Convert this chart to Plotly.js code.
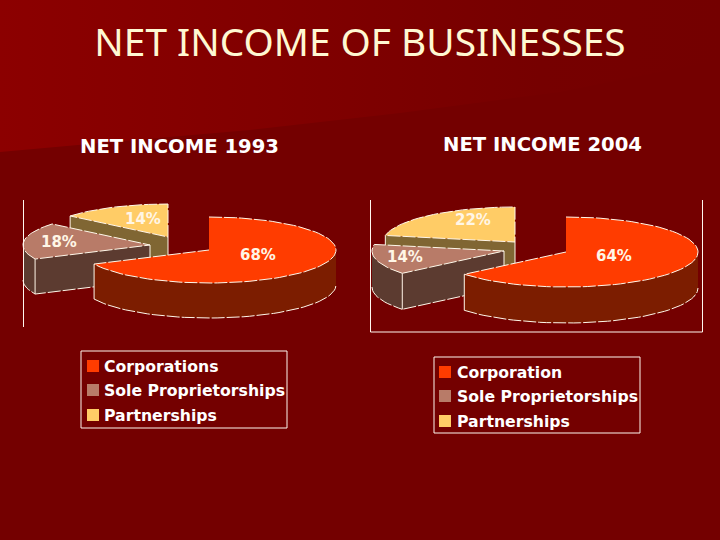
<!DOCTYPE html>
<html><head><meta charset="utf-8">
<script src="https://cdn.plot.ly/plotly-3.0.1.min.js"></script>
<style>html,body{margin:0;padding:0;background:#740000}#c{width:720px;height:540px}</style>
</head><body><div id="c"></div>
<script>
const mainTitle = 'NET INCOME OF BUSINESSES';
const title1993 = 'NET INCOME 1993';
const title2004 = 'NET INCOME 2004';
const categories1993 = ['Corporations', 'Sole Proprietorships', 'Partnerships'];
const values1993 = [68, 18, 14];
const categories2004 = ['Corporation', 'Sole Proprietorships', 'Partnerships'];
const values2004 = [64, 14, 22];
const topColors = ['#FF3C00', '#B87B68', '#FFCC66'];
const sideColors = ['#7C1D00', '#5C3B30', '#806633'];
const edge = '#FFF8EA';

const charts = [
  {values: values1993, cats: categories1993, rx: 127, ry: 33, depth: 35,
   apex: [[209,250],[150,245],[168,237]],
   labels: [[258,255],[59,242],[143,219]],
   title: title1993, titleAt: [179,146],
   key: {x0:81, x1:287, y0:351, y1:428, sq:93, txt:102, rows:[366,390,415]}},
  {values: values2004, cats: categories2004, rx: 132, ry: 35, depth: 36,
   apex: [[566,252],[504,251],[515,242]],
   labels: [[614,256],[405,257],[473,220]],
   title: title2004, titleAt: [542,144],
   key: {x0:434, x1:640, y0:357, y1:433, sq:445, txt:455, rows:[372,396,421]}}
];

const traces = [];
const annotations = [];
const shapes = [];
const rad = d => d * Math.PI / 180;

// background sheen, upper-left
traces.push({x:[0,720,720,560,400,250,100,0,0], y:[0,0,60,92,113,130,143,152,0],
  mode:'none', fill:'toself', hoverinfo:'skip', showlegend:false,
  fillgradient:{type:'horizontal', colorscale:[[0,'#8C0000'],[0.35,'#820000'],[0.75,'#760000'],[1,'#740000']]}});

function pt(c, rx, ry, a, dz) {
  return [c[0] + rx * Math.sin(rad(a)), c[1] - ry * Math.cos(rad(a)) + (dz || 0)];
}
function area(points, fill, name) {
  traces.push({x: points.map(p => p[0]), y: points.map(p => p[1]), mode:'lines',
    fill:'toself', fillcolor: fill, line:{width:0, color: fill}, name,
    hoverinfo:'skip', showlegend:false});
}
function stroke(points, dash) {
  traces.push({x: points.map(p => p[0]), y: points.map(p => p[1]), mode:'lines',
    line:{color: edge, width: 1, dash}, hoverinfo:'skip', showlegend:false});
}
function arc(c, rx, ry, a0, a1, dz) {
  const out = [];
  const n = Math.max(2, Math.ceil(Math.abs(a1 - a0) / 3));
  for (let i = 0; i <= n; i++) out.push(pt(c, rx, ry, a0 + (a1 - a0) * i / n, dz));
  return out;
}
const rim = '13px,2px';

charts.forEach(ch => {
  const total = ch.values.reduce((s, v) => s + v, 0);
  let acc = 0;
  const spans = ch.values.map(v => { const a0 = acc; acc += v / total * 360; return [a0, acc]; });
  [2, 1, 0].forEach(i => {
    const [a0, a1] = spans[i], c = ch.apex[i];
    const lo = Math.max(a0, 90), hi = Math.min(a1, 270);
    if (hi > lo) {
      const t = arc(c, ch.rx, ch.ry, lo, hi, 0), b = arc(c, ch.rx, ch.ry, hi, lo, ch.depth);
      area(t.concat(b), sideColors[i], ch.cats[i]);
      stroke(b, rim);
    }
    if (a0 > 180) {
      const s = pt(c, ch.rx, ch.ry, a0);
      const sb = [s[0], s[1] + ch.depth], cb = [c[0], c[1] + ch.depth];
      area([c, s, sb, cb], sideColors[i], ch.cats[i]);
      stroke([cb, sb], rim);
      stroke([s, sb], 'solid');
      stroke([c, cb], 'solid');
    } else if (hi > lo) {
      const s = pt(c, ch.rx, ch.ry, hi);
      stroke([s, [s[0], s[1] + ch.depth]], 'solid');
    }
    const rimTop = arc(c, ch.rx, ch.ry, a0, a1, 0);
    area([c].concat(rimTop), topColors[i], ch.cats[i]);
    stroke(i === 0 ? rimTop.concat([c]) : rimTop.concat([c, rimTop[0]]), rim);
  });
  ch.values.forEach((v, i) => annotations.push({x: ch.labels[i][0], y: ch.labels[i][1],
    text: v + '%', showarrow:false, xref:'x', yref:'y',
    font:{family:'DejaVu Sans', size:15, color:'#FFF6E6', weight:700}}));
  annotations.push({x: ch.titleAt[0], y: ch.titleAt[1], text: ch.title, showarrow:false,
    font:{family:'DejaVu Sans', size:19.6, color:'#FFFFFF', weight:700}});
  const k = ch.key;
  shapes.push({type:'rect', xref:'x', yref:'y', x0:k.x0, x1:k.x1, y0:k.y0, y1:k.y1,
    line:{color:'#FFF6EE', width:1}, fillcolor:'rgba(0,0,0,0)'});
  ch.cats.forEach((name, i) => {
    traces.push({x:[k.sq], y:[k.rows[i]], mode:'markers', hoverinfo:'skip', showlegend:false,
      marker:{symbol:'square', size:12, color: topColors[i]}, name});
    annotations.push({x:k.txt, y:k.rows[i], text:name, showarrow:false, xanchor:'left',
      font:{family:'DejaVu Sans', size:15.7, color:'#FFFFFF', weight:700}});
  });
});

[[23.5,200,23.5,327],[370.5,200,370.5,332],[370.5,332,702.5,332],[702.5,200,702.5,332]].forEach(l =>
  shapes.push({type:'line', xref:'x', yref:'y', x0:l[0], y0:l[1], x1:l[2], y1:l[3],
    line:{color:'#FFF6EE', width:1}}));

const hidden = {visible:false, fixedrange:true};
Plotly.newPlot('c', traces, {
  width:720, height:540, margin:{l:0,r:0,t:0,b:0}, showlegend:false,
  paper_bgcolor:'#740000', plot_bgcolor:'rgba(0,0,0,0)',
  title:{text:mainTitle, x:0.5, xanchor:'center', y:1-42/540, yanchor:'middle',
    font:{family:'Noto Sans', size:38.8, color:'#FFF8D2'}},
  xaxis:Object.assign({range:[0,720]}, hidden),
  yaxis:Object.assign({range:[540,0]}, hidden),
  annotations, shapes
}, {displayModeBar:false, staticPlot:true});
</script></body></html>
